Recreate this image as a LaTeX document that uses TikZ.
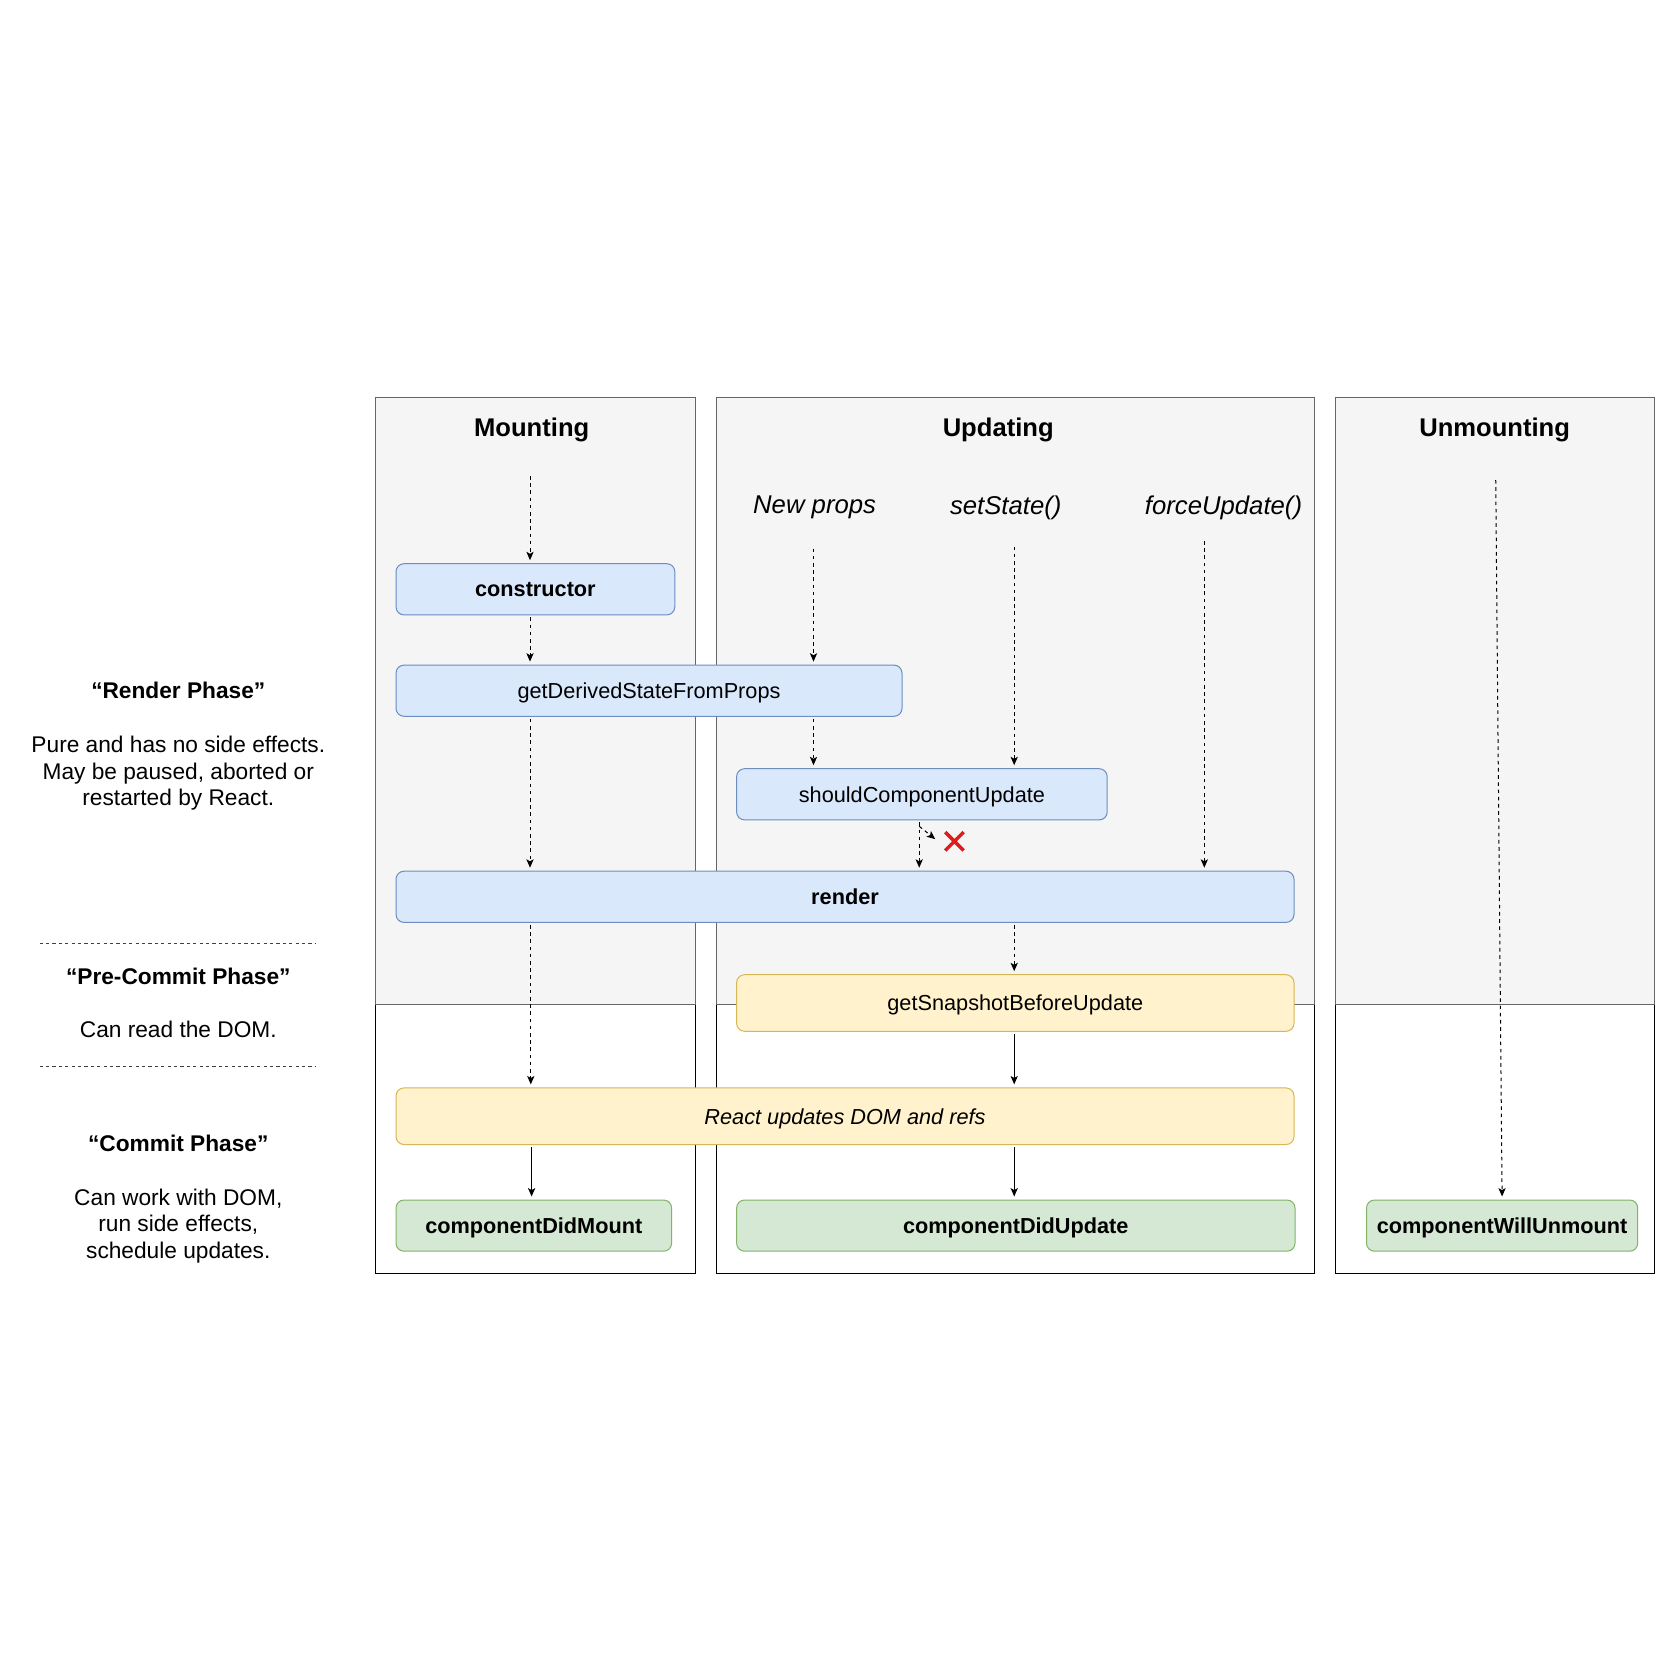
\documentclass[tikz,border=0pt]{standalone}
\usepackage{fontspec}
\setmainfont{Liberation Sans}
\usetikzlibrary{positioning,arrows.meta,calc,shapes.misc}
\definecolor{cPanel}{HTML}{F5F5F5}
\definecolor{cPanelRule}{HTML}{666666}
\definecolor{cBlue}{HTML}{DAE8FC}
\definecolor{cBlueRule}{HTML}{6C8EBF}
\definecolor{cYel}{HTML}{FFF2CC}
\definecolor{cYelRule}{HTML}{D6B656}
\definecolor{cGrn}{HTML}{D5E8D4}
\definecolor{cGrnRule}{HTML}{82B366}
\definecolor{cNo}{HTML}{E01B1B}
\tikzset{
  lc/box/.style ={draw, rounded corners=4pt, line width=0.5pt,
                  minimum height=25.6pt, inner sep=2pt, align=center,
                  text depth=0pt, font=\fontsize{10.85}{13}\selectfont},
  lc/blue/.style={lc/box, fill=cBlue, draw=cBlueRule},
  lc/yel/.style ={lc/box, fill=cYel, draw=cYelRule, minimum height=28.3pt},
  lc/grn/.style ={lc/box, fill=cGrn, draw=cGrnRule,
                  font=\fontsize{10.85}{13}\selectfont\bfseries},
  lc/bold/.style={font=\fontsize{10.85}{13}\selectfont\bfseries},
  lc/head/.style={text depth=0pt, font=\fontsize{12.8}{15}\selectfont\bfseries},
  lc/trig/.style={text depth=0pt, font=\fontsize{12.85}{15}\selectfont\itshape},
  lc/phase/.style={text depth=0pt, font=\fontsize{11.35}{13.35}\selectfont, align=center},
  lc/phasett/.style={lc/phase, font=\fontsize{11.35}{13.35}\selectfont\bfseries},
  lc/arr/.style ={-{Stealth[length=4.2pt, width=3.6pt, inset=1pt]},
                  line width=0.5pt, shorten >=1.5pt, shorten <=1pt},
  lc/darr/.style={lc/arr, dash pattern=on 1.8pt off 1.8pt},
  lc/sep/.style ={line width=0.5pt, dash pattern=on 1.6pt off 1.6pt, black!75}
}

\begin{document}
\begin{tikzpicture}[x=0.5pt, y=-0.5pt]
    \fill[white] (0,0) rectangle (1674,1674);
    \useasboundingbox (0,0) rectangle (1674,1674);
    % the three lifecycle columns (grey render part, white commit part)
    \foreach \cx/\cw/\hx/\ctitle/\cn in {375.8/319.2/531.7/Mounting/M,
        716.4/597.8/998.2/Updating/U, 1335.6/319.2/1494.6/Unmounting/X} {
      \draw[black, line width=0.5pt, fill=white] (\cx,1004.6) rectangle ++(\cw,269);
      \draw[cPanelRule, line width=0.5pt, fill=cPanel] (\cx,397) rectangle ++(\cw,607.6);
      \node[lc/head] (head\cn) at (\hx,427) {\ctitle};
    }

    % phase captions on the left
    \node[lc/phasett] (renderT) at (178.3,690.7) {“Render Phase”};
    \node[lc/phase]   (renderD) at (178.3,770.8) {Pure and has no side effects.\\May be paused, aborted or\\restarted by React.};
    \node[lc/phasett] (preT)    at (178.3,975.8) {“Pre-Commit Phase”};
    \node[lc/phase]   (preD)    at (178.3,1029.2) {Can read the DOM.};
    \node[lc/phasett] (commitT) at (178.3,1143.4) {“Commit Phase”};
    \node[lc/phase]   (commitD) at (178.3,1223.5) {Can work with DOM,\\run side effects,\\schedule updates.};
    \draw[lc/sep] (39.5,943.8) -- (316,943.8);
    \draw[lc/sep] (39.5,1066.5) -- (316,1066.5);

    % triggers of an update
    \node[lc/trig] (props) at (814.6,505) {New props};
    \node[lc/trig] (state) at (1005.7,505) {setState()};
    \node[lc/trig] (force) at (1223.5,505) {forceUpdate()};

    % lifecycle methods
    \node[lc/blue, lc/bold, minimum width=139.4pt] (ctor)    at (535.4,589.3) {constructor};
    \node[lc/blue, minimum width=253pt]            (derived) at (649,690.7)   {getDerivedStateFromProps};
    \node[lc/blue, minimum width=185.3pt]          (should)  at (921.9,794.3) {shouldComponentUpdate};
    \node[lc/blue, lc/bold, minimum width=449pt]   (render)  at (845,896.8)   {render};
    \node[lc/yel, minimum width=278.7pt]           (snap)    at (1015.3,1003) {getSnapshotBeforeUpdate};
    \node[lc/yel, minimum width=449pt,
          font=\fontsize{10.85}{13}\selectfont\itshape] (dom) at (845,1116.2) {React updates DOM and refs};
    \node[lc/grn, minimum width=137.8pt] (didMount)    at (533.8,1225.6)  {componentDidMount};
    \node[lc/grn, minimum width=279.2pt] (didUpdate)   at (1015.8,1225.6) {componentDidUpdate};
    \node[lc/grn, minimum width=135.6pt] (willUnmount) at (1502.1,1225.6) {componentWillUnmount};

    % lanes
    \coordinate (mTop)     at (530,474);
    \coordinate (propsTop) at (813.5,546.6);
    \coordinate (stateTop) at (1014.2,544.5);
    \coordinate (forceTop) at (1204.3,539);
    \coordinate (sLane)    at (919.2,0);
    \coordinate (uTop)     at (1495.7,478);

    % mounting
    \draw[lc/darr] (mTop) -- (ctor.north -| mTop);
    \draw[lc/darr] (ctor.south -| mTop) -- (derived.north -| mTop);
    \draw[lc/darr] (derived.south -| mTop) -- (render.north -| mTop);
    \draw[lc/darr] ([xshift=0.4pt]render.south -| mTop) -- ([xshift=0.4pt]dom.north -| mTop);
    \draw[lc/arr]  ([xshift=0.8pt]dom.south -| mTop) -- ([xshift=0.8pt]didMount.north -| mTop);
    % updating
    \draw[lc/darr] (propsTop) -- (derived.north -| propsTop);
    \draw[lc/darr] (derived.south -| propsTop) -- (should.north -| propsTop);
    \draw[lc/darr] (stateTop) -- (should.north -| stateTop);
    \draw[lc/darr] (forceTop) -- (render.north -| forceTop);
    \draw[lc/darr] (should.south -| sLane) -- (render.north -| sLane);
    \coordinate (skipFrom) at (919.2,826.3);
    \coordinate (skipTo)   at (935.2,839.1);
    \draw[lc/darr, shorten >=0pt, shorten <=0pt] (skipFrom) -- (skipTo);
    \node[cross out, draw=cNo, line width=1.7pt, minimum size=7.5pt, inner sep=0pt] (noUpd) at (954.4,841.3) {};
    \draw[lc/darr] (render.south -| stateTop) -- (snap.north -| stateTop);
    \draw[lc/arr]  (snap.south -| stateTop) -- (dom.north -| stateTop);
    \draw[lc/arr]  (dom.south -| stateTop) -- (didUpdate.north -| stateTop);
    % unmounting
    \draw[lc/darr] (uTop) -- (willUnmount.north);
\end{tikzpicture}
\end{document}
